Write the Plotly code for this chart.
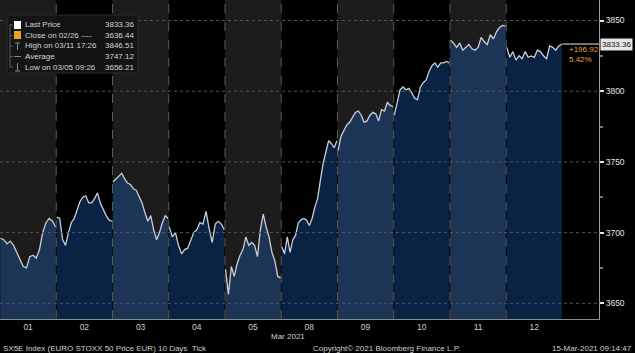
import plotly.graph_objects as go

# ---------------- data ----------------
day_labels = ["01", "02", "03", "04", "05", "08", "09", "10", "11", "12"]

d01 = [3696, 3695, 3692, 3694, 3691, 3686, 3680, 3676, 3675, 3683, 3684, 3682, 3688, 3700, 3707, 3710, 3708, 3704]
d02 = [3711, 3710, 3695, 3691, 3700, 3707, 3710, 3716, 3722, 3725, 3726, 3721, 3721, 3724, 3728, 3721, 3716, 3712, 3709, 3708]
d03 = [3736, 3738, 3740, 3742, 3738, 3735, 3734, 3731, 3730, 3726, 3721, 3714, 3708, 3712, 3702, 3695, 3700, 3707, 3712, 3710]
d04 = [3704, 3697, 3700, 3691, 3685, 3688, 3689, 3695, 3700, 3702, 3707, 3706, 3715, 3703, 3693, 3706, 3708, 3706, 3702]
d05 = [3674, 3656.21, 3676, 3669, 3678, 3684, 3688, 3697, 3691, 3693, 3691, 3683, 3702, 3713, 3704, 3697, 3686, 3680, 3669, 3668]
d08 = [3690, 3685, 3697, 3686, 3695, 3698, 3707, 3709, 3710, 3709, 3705, 3710, 3718, 3724, 3737, 3749, 3757, 3765, 3763, 3760, 3765]
d09 = [3758, 3768, 3772, 3776, 3778, 3782, 3785, 3786, 3783, 3778, 3779, 3783, 3785, 3784, 3779, 3787, 3786, 3792, 3790, 3789]
d10 = [3783, 3792, 3801, 3803, 3801, 3802, 3799, 3795, 3794, 3803, 3806, 3808, 3814, 3818, 3820, 3817, 3820, 3820, 3821, 3820]
d11 = [3836, 3834, 3831, 3834, 3829, 3831, 3833, 3830, 3829, 3831, 3838, 3835, 3833, 3840, 3837, 3842, 3845, 3846.51, 3846]
d12 = [3831, 3824, 3828, 3822, 3825, 3823, 3828, 3824, 3825, 3824, 3829, 3828, 3825, 3823, 3832, 3831, 3829, 3832, 3833.36]
days = [d01, d02, d03, d04, d05, d08, d09, d10, d11, d12]

y_ticks = [3650, 3700, 3750, 3800, 3850]
y_minor = [3675, 3725, 3775, 3825]

legend_rows = [
    ("Last Price", "3833.36"),
    ("Close on 02/26 ----", "3636.44"),
    ("High on 03/11 17:26", "3846.51"),
    ("Average", "3747.12"),
    ("Low on 03/05 09:26", "3656.21"),
]
last_price = 3833.36
change_txt = "+196.92"
pct_txt = "5.42%"

# ---------------- layout helpers ----------------
W, H = 635, 353
PW, PH = 599, 319


def fx(p):
    return p / PW


def fy(p):
    return 1 - p / PH


FONT = "Liberation Sans, Arial, sans-serif"
fig = go.Figure()

LIGHT_FILL = "#1c3557"
DARK_FILL = "#0a2244"
for k, vals in enumerate(days):
    n = len(vals)
    xs = [k + 0.01 + 0.98 * i / (n - 1) for i in range(n)]
    fig.add_trace(go.Scatter(
        x=xs, y=vals, mode="lines", line=dict(color="#c9ced8", width=1.3),
        fill="tozeroy", fillcolor=LIGHT_FILL if k % 2 == 0 else DARK_FILL,
        hoverinfo="skip", showlegend=False))

shapes = []
for k in range(10):
    if k % 2 == 0:
        shapes.append(dict(type="rect", xref="x", yref="paper", x0=k, x1=k + 1, y0=0, y1=1,
                           fillcolor="#1d1b1b", line=dict(width=0), layer="below"))
for k in range(1, 10):
    shapes.append(dict(type="line", xref="x", yref="paper", x0=k, x1=k, y0=0, y1=1,
                       line=dict(color="#5c5c5c", width=1, dash="dash"), layer="above"))
for v in y_ticks:
    shapes.append(dict(type="line", xref="paper", yref="y", x0=0, x1=1, y0=v, y1=v,
                       line=dict(color="#565656", width=1, dash="dot"), layer="above"))
# last price guide
shapes.append(dict(type="line", xref="x", yref="y", x0=10, x1=10.65, y0=last_price, y1=last_price,
                   line=dict(color="#e8e8e8", width=1), layer="above"))
# legend box
shapes.append(dict(type="rect", xref="paper", yref="paper", x0=fx(7), x1=fx(138), y0=fy(73), y1=fy(15),
                   fillcolor="rgba(20,20,20,0.92)", line=dict(color="#2b2b2b", width=1), layer="above"))
shapes.append(dict(type="rect", xref="paper", yref="paper", x0=fx(14), x1=fx(21), y0=fy(29), y1=fy(21),
                   fillcolor="#ffffff", line=dict(width=0), layer="above"))
shapes.append(dict(type="rect", xref="paper", yref="paper", x0=fx(14), x1=fx(21), y0=fy(39), y1=fy(31),
                   fillcolor="#f0a020", line=dict(width=0), layer="above"))
# tree lines
shapes.append(dict(type="line", xref="paper", yref="paper", x0=fx(10), x1=fx(10), y0=fy(67), y1=fy(24),
                   line=dict(color="#5a5a5a", width=1), layer="above"))
for r in range(5):
    yy = 25 + r * 10.5
    shapes.append(dict(type="line", xref="paper", yref="paper", x0=fx(10), x1=fx(13), y0=fy(yy), y1=fy(yy),
                       line=dict(color="#5a5a5a", width=1), layer="above"))
# small glyphs for high / average / low
shapes.append(dict(type="line", xref="paper", yref="paper", x0=fx(15), x1=fx(20), y0=fy(43), y1=fy(43),
                   line=dict(color="#8a8a8a", width=1), layer="above"))
shapes.append(dict(type="line", xref="paper", yref="paper", x0=fx(17.5), x1=fx(17.5), y0=fy(50), y1=fy(43),
                   line=dict(color="#8a8a8a", width=1), layer="above"))
shapes.append(dict(type="line", xref="paper", yref="paper", x0=fx(14), x1=fx(21), y0=fy(56.5), y1=fy(56.5),
                   line=dict(color="#8a8a8a", width=1), layer="above"))
shapes.append(dict(type="line", xref="paper", yref="paper", x0=fx(15), x1=fx(20), y0=fy(71), y1=fy(71),
                   line=dict(color="#8a8a8a", width=1), layer="above"))
shapes.append(dict(type="line", xref="paper", yref="paper", x0=fx(17.5), x1=fx(17.5), y0=fy(71), y1=fy(63),
                   line=dict(color="#8a8a8a", width=1), layer="above"))

ann = []
for r, (lab, val) in enumerate(legend_rows):
    yy = 25 + r * 10.5
    ann.append(dict(x=fx(23), y=fy(yy), xref="paper", yref="paper", xanchor="left", yanchor="middle",
                    text=lab, showarrow=False, font=dict(family=FONT, size=8, color="#d4d4d4")))
    ann.append(dict(x=fx(136), y=fy(yy), xref="paper", yref="paper", xanchor="right", yanchor="middle",
                    text=val, showarrow=False, font=dict(family=FONT, size=8, color="#d4d4d4")))

ann.append(dict(x=fx(600), y=last_price, xref="paper", yref="y", xanchor="left", yanchor="middle",
                text=f"{last_price:.2f}", showarrow=False, bgcolor="#e6e6e6", borderpad=1,
                font=dict(family=FONT, size=8, color="#111111")))
ann.append(dict(x=fx(567), y=fy(49), xref="paper", yref="paper", xanchor="left", yanchor="middle",
                text=change_txt, showarrow=False, font=dict(family=FONT, size=8, color="#e8a33a")))
ann.append(dict(x=fx(567), y=fy(60), xref="paper", yref="paper", xanchor="left", yanchor="middle",
                text=pct_txt, showarrow=False, font=dict(family=FONT, size=8, color="#e8a33a")))
ann.append(dict(x=fx(288), y=fy(336), xref="paper", yref="paper", xanchor="center", yanchor="middle",
                text="Mar 2021", showarrow=False, font=dict(family=FONT, size=8, color="#cfcfcf")))
ann.append(dict(x=fx(1), y=fy(348), xref="paper", yref="paper", xanchor="left", yanchor="middle",
                text="SX5E Index (EURO STOXX 50 Price EUR) 10 Days  Tick", showarrow=False,
                font=dict(family=FONT, size=8, color="#cfcfcf")))
ann.append(dict(x=fx(311), y=fy(348), xref="paper", yref="paper", xanchor="left", yanchor="middle",
                text="Copyright© 2021 Bloomberg Finance L.P.", showarrow=False,
                font=dict(family=FONT, size=8, color="#cfcfcf")))
ann.append(dict(x=fx(634), y=fy(348), xref="paper", yref="paper", xanchor="right", yanchor="middle",
                text="15-Mar-2021 09:14:47", showarrow=False,
                font=dict(family=FONT, size=8, color="#cfcfcf")))

fig.update_layout(
    width=W, height=H, margin=dict(l=0, r=W - PW, t=0, b=H - PH),
    paper_bgcolor="#000000", plot_bgcolor="#000000",
    shapes=shapes, annotations=ann, showlegend=False,
    xaxis=dict(range=[0, 10.65], tickvals=[k + 0.5 for k in range(10)], ticktext=day_labels,
               showgrid=False, zeroline=False, showline=True, linecolor="#8c8c8c", linewidth=1,
               ticks="", tickfont=dict(family=FONT, size=8.5, color="#cfcfcf"), fixedrange=True),
    yaxis=dict(side="right", range=[3638.9, 3864.5], tickvals=y_ticks, showgrid=False, zeroline=False,
               showline=True, linecolor="#9c9c9c", linewidth=1, ticks="outside", ticklen=4, tickwidth=2,
               tickcolor="#e4e4e4", tickfont=dict(family=FONT, size=8.5, color="#e4e4e4"),
               minor=dict(tickvals=y_minor, ticks="outside", ticklen=3, tickcolor="#777777"),
               fixedrange=True),
)

fig.write_html("out.html")
